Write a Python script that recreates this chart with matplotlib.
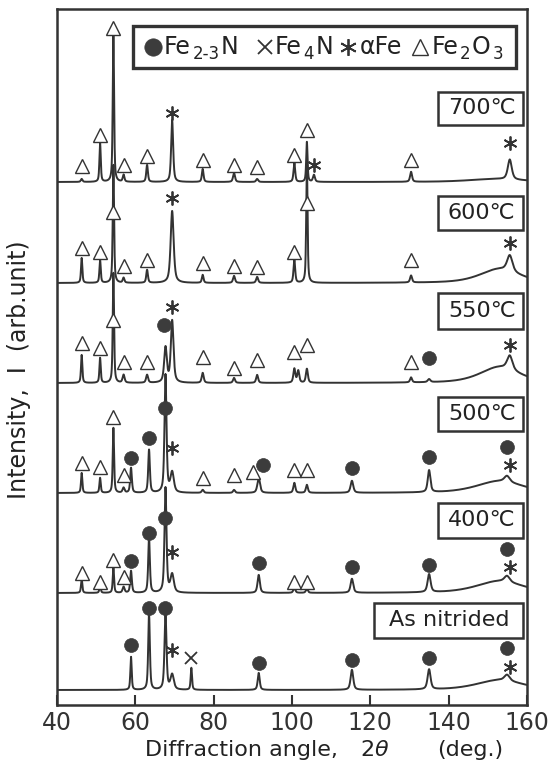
import numpy as np
import matplotlib
matplotlib.use("Agg")
import matplotlib.pyplot as plt
from matplotlib.patches import Rectangle

plt.rcParams['font.family'] = ['DejaVu Sans']
plt.rcParams['mathtext.fontset'] = 'dejavusans'

INK = "#333333"
TXT = "#222222"
W, H = 556, 770

# sample labels (top to bottom) and the level of each baseline
samples = ["700℃", "600℃", "550℃", "500℃", "400℃", "As nitrided"]
baselines = [523, 422, 322, 212, 112, 15]

# peaks: (2theta, height, half width)
peaks_700 = [(46.3, 3, .25), (51.0, 39, .2), (54.4, 149, .2), (57.0, 7, .25), (63.0, 17, .25),
             (69.4, 62, .3), (77.2, 13, .25), (85.2, 9, .3), (91.1, 3, .3), (100.6, 19, .25),
             (103.8, 40, .2), (105.6, 7, .3), (130.4, 10, .3), (155.6, 20, .6), (152.0, 3, 8)]
peaks_600 = [(46.3, 25, .2), (51.0, 23, .2), (54.4, 118, .2), (57.0, 5, .25), (63.0, 13, .25),
             (69.4, 72, .45), (77.2, 8, .25), (85.2, 7, .3), (91.1, 6, .3), (100.6, 23, .25),
             (103.8, 122, .2), (130.4, 7, .3), (155.6, 16, .8), (153.0, 14, 6)]
peaks_550 = [(46.3, 28, .2), (51.0, 25, .2), (54.4, 110, .2), (57.0, 8, .3), (63.0, 8, .3),
             (67.7, 35, .4), (69.4, 62, .4), (77.2, 10, .3), (85.2, 5, .3), (91.1, 8, .3),
             (100.6, 14, .3), (101.6, 12, .3), (103.8, 14, .3), (130.4, 5, .3), (135.0, 3, .4),
             (155.6, 14, .8), (153.0, 16, 6)]
peaks_500 = [(46.3, 20, .2), (51.0, 15, .2), (54.4, 65, .2), (57.0, 5, .3), (58.9, 25, .25),
             (63.5, 43, .25), (67.7, 118, .3), (69.4, 20, .5), (77.2, 3, .3), (85.2, 3, .3),
             (91.5, 15, .4), (100.6, 10, .3), (103.8, 8, .3), (115.3, 12, .4), (135.0, 22, .4),
             (154.9, 6, .8), (153.0, 12, 7)]
peaks_400 = [(46.3, 14, .2), (51.0, 8, .2), (54.4, 25, .2), (57.0, 6, .3), (58.9, 22, .25),
             (63.5, 55, .25), (67.7, 105, .3), (69.4, 18, .5), (91.5, 18, .35), (100.6, 5, .3),
             (103.8, 4, .3), (115.3, 14, .4), (135.0, 18, .45), (154.9, 6, .8), (153.0, 12, 7)]
peaks_asn = [(58.9, 33, .2), (63.5, 76, .25), (67.7, 76, .3), (69.4, 15, .5), (74.3, 22, .2),
             (91.5, 17, .3), (115.3, 20, .4), (135.0, 20, .45), (154.9, 6, .8), (153.0, 10, 7)]

# phase marks: (phase, 2theta, height above baseline)
marks_700 = [("t", 46.3, 16), ("t", 51.0, 47), ("t", 54.4, 154), ("t", 57.0, 17), ("t", 63.0, 26),
             ("t", 77.2, 22), ("t", 85.2, 17), ("t", 91.1, 15), ("t", 100.6, 27), ("t", 103.8, 52),
             ("t", 130.4, 22), ("s", 69.4, 69), ("s", 105.6, 17), ("s", 155.6, 39)]
marks_600 = [("t", 46.3, 35), ("t", 51.0, 31), ("t", 54.4, 71), ("t", 57.0, 17), ("t", 63.0, 23),
             ("t", 77.2, 20), ("t", 85.2, 17), ("t", 91.1, 16), ("t", 100.6, 31), ("t", 103.8, 80),
             ("t", 130.4, 23), ("s", 69.4, 85), ("s", 155.6, 40)]
marks_550 = [("t", 46.3, 40), ("t", 51.0, 35), ("t", 54.4, 63), ("t", 57.0, 21), ("t", 63.0, 21),
             ("t", 77.2, 26), ("t", 85.2, 15), ("t", 91.1, 23), ("t", 100.6, 31), ("t", 103.8, 38),
             ("t", 130.4, 21), ("c", 67.2, 58), ("s", 69.4, 76), ("c", 135.0, 25), ("s", 155.6, 38)]
marks_500 = [("t", 46.3, 30), ("t", 51.0, 26), ("t", 54.4, 76), ("t", 57.0, 18), ("t", 77.2, 15),
             ("t", 85.2, 18), ("t", 90.0, 21), ("t", 100.6, 23), ("t", 103.8, 23),
             ("c", 58.9, 35), ("c", 63.5, 55), ("c", 67.7, 85), ("s", 69.4, 45), ("c", 92.5, 28),
             ("c", 115.3, 25), ("c", 135.0, 36), ("c", 154.9, 46), ("s", 155.6, 28)]
marks_400 = [("t", 46.3, 20), ("t", 51.0, 11), ("t", 54.4, 33), ("t", 57.0, 16), ("t", 100.6, 11),
             ("t", 103.8, 11), ("c", 58.9, 32), ("c", 63.5, 60), ("c", 67.7, 75), ("s", 69.4, 41),
             ("c", 91.5, 30), ("c", 115.3, 26), ("c", 135.0, 28), ("c", 154.9, 44), ("s", 155.6, 26)]
marks_asn = [("c", 58.9, 45), ("c", 63.5, 82), ("c", 67.7, 82), ("s", 69.4, 40), ("x", 74.3, 32),
             ("c", 91.5, 27), ("c", 115.3, 30), ("c", 135.0, 32), ("c", 154.9, 42), ("s", 155.6, 23)]

all_peaks = [peaks_700, peaks_600, peaks_550, peaks_500, peaks_400, peaks_asn]
all_marks = [marks_700, marks_600, marks_550, marks_500, marks_400, marks_asn]

MARKS = {
    "t": dict(marker="^", ms=9.5, mfc="white", mec=INK, mew=1.0),
    "c": dict(marker="o", ms=10, mfc="#3c3c3c", mec="#3c3c3c", mew=0.5),
    "s": dict(marker=(6, 2, 0), ms=10, mec=INK, mew=1.3),
    "x": dict(marker="x", ms=8, mec=INK, mew=1.3),
}


def pattern(x, peaks):
    y = np.zeros_like(x)
    for c, h, w in peaks:
        lor = 1.0 / (1.0 + ((x - c) / w) ** 2)
        gau = np.exp(-np.log(2) * ((x - c) / w) ** 2)
        y += h * (0.6 * lor + 0.4 * gau)
    return y


tth = np.linspace(40, 160, 4801)

fig = plt.figure(figsize=(W / 100, H / 100), dpi=100)
ax = fig.add_axes([57 / W, 1 - 705 / H, 470 / W, 696 / H])

for base, pk, mk in zip(baselines, all_peaks, all_marks):
    ax.plot(tth, base + pattern(tth, pk), color=INK, lw=1.4, zorder=2)
    for kind, px, h in mk:
        ax.plot([px], [base + h], ls="none", zorder=3, **MARKS[kind])

# sample label boxes (x from, x to, y from, y to)
boxes = [(137.3, 159.0, 580, 613), (137.3, 159.0, 475, 509), (137.3, 159.0, 376, 412),
         (137.3, 159.0, 274, 308), (137.3, 159.0, 167, 202), (120.9, 159.0, 67, 102)]
for (x0, x1, y0, y1), lab in zip(boxes, samples):
    ax.add_patch(Rectangle((x0, y0), x1 - x0, y1 - y0, fc="white", ec=INK, lw=1.8, zorder=4))
    ax.text((x0 + x1) / 2 + 0.3, (y0 + y1) / 2, lab, ha="center", va="center",
            fontsize=16, color=TXT, zorder=5)

ax.set_xlim(40, 160)
ax.set_ylim(0, 696)
ax.set_xticks([40, 60, 80, 100, 120, 140, 160])
ax.set_yticks([])
ax.tick_params(axis="x", direction="in", length=7, width=1.5, labelsize=17, pad=4, colors=INK)
for sp in ax.spines.values():
    sp.set_linewidth(1.8)
    sp.set_color(INK)

# legend box
ax.add_patch(Rectangle((59.4, 637), 97.8, 42, fc="white", ec=INK, lw=2.4, zorder=4))

renderer = fig.canvas.get_renderer()


def run(x, parts, base_y):
    # write text pieces one after another (dy > 0 moves down), returns end x in pixels
    for txt, size, dy in parts:
        t = fig.text(x / W, (H - base_y - dy) / H, txt, fontsize=size, color=TXT,
                     va="baseline", ha="left", zorder=6)
        x = t.get_window_extent(renderer).x1 + 1.5
    return x


LB = 54  # legend baseline (px from top)
ly = 705 - 47


def leg_mark(xpx, kind, **kw):
    ax.plot([40 + (xpx - 57) / 3.9167], [ly], ls="none", zorder=6, **dict(MARKS[kind], **kw))


leg_mark(153, "c", ms=12.5)
run(164, [("Fe", 17, 0), ("2-3", 12, 5), ("N", 17, 0)], LB)
leg_mark(265, "x", ms=10)
end = run(275, [("Fe", 17, 0), ("4", 12, 5), ("N", 17, 0)], LB)
leg_mark(end + 13, "s", ms=12)
end = run(end + 25, [("αFe", 17, 0)], LB)
leg_mark(end + 17, "t", ms=12)
run(end + 28, [("Fe", 17, 0), ("2", 12, 5), ("O", 17, 0), ("3", 12, 5)], LB)

# axis titles
for txt, xpx in [("Diffraction angle,", 145), (r"2$\theta$", 360), ("(deg.)", 437)]:
    fig.text(xpx / W, 1 - 750 / H, txt, ha="left", va="center", fontsize=16, color=TXT)
fig.text(19 / W, 1 - 370 / H, "Intensity,  I  (arb.unit)", ha="center", va="center",
         rotation=90, fontsize=17, color=TXT)

fig.savefig("out.png", dpi=100)
